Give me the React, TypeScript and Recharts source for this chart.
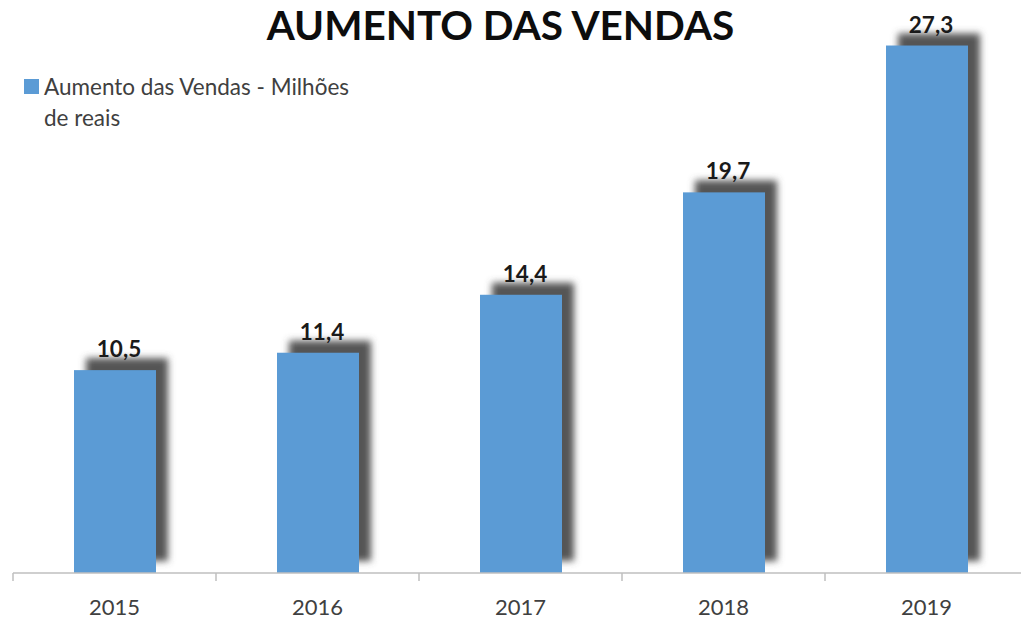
import { BarChart, Bar, XAxis, YAxis, LabelList, Legend } from 'recharts';

const years = ['2015', '2016', '2017', '2018', '2019'];
const vendas = [10.5, 11.4, 14.4, 19.7, 27.3];
const seriesName = 'Aumento das Vendas - Milhões de reais';
const title = 'AUMENTO DAS VENDAS';

const data = years.map((ano, i) => ({ ano, vendas: vendas[i] }));

const FONT = 'Lato, "Open Sans", sans-serif';

const ShadowBar = (props: any) => {
  const { x, y, width, height, index } = props;
  const id = `sombra-${index}`;
  return (
    <g>
      <defs>
        <filter id={id} x="-30%" y="-30%" width="160%" height="160%">
          <feGaussianBlur stdDeviation="3.5" />
        </filter>
      </defs>
      <rect x={x + 12} y={y - 12} width={width} height={height} fill="#555555" filter={`url(#${id})`} />
      <rect x={x} y={y} width={width} height={height} fill="#5b9bd5" />
    </g>
  );
};

const AnoTick = (props: any) => {
  const { x, y, payload } = props;
  const half = payload?.offset ?? 101.5;
  const axisY = y - 8;
  return (
    <g>
      <line x1={x - half} y1={axisY} x2={x - half} y2={axisY + 8} stroke="#bfbfbf" strokeWidth={1.5} />
      <text x={x} y={axisY + 42} textAnchor="middle" fontSize={22} fill="#404040" fontFamily={FONT}>
        {payload.value}
      </text>
    </g>
  );
};

const renderLabel = (props: any) => {
  const { x, y, width, value } = props;
  return (
    <text x={x + width / 2 + 4} y={y - 13} textAnchor="middle" fontSize={22.5} fontWeight="bold" fill="#1a1a1a" fontFamily={FONT}>
      {String(value).replace('.', ',')}
    </text>
  );
};

const renderLegend = () => (
  <div style={{ display: 'flex', alignItems: 'flex-start', fontFamily: FONT, fontSize: 22.5, color: '#404040', lineHeight: '31px' }}>
    <span style={{ display: 'inline-block', width: 15, height: 15, background: '#5b9bd5', marginTop: 8, marginRight: 5, flexShrink: 0 }} />
    <span style={{ width: 335 }}>{seriesName}</span>
  </div>
);

export default function App() {
  return (
    <div style={{ position: 'absolute', left: 0, top: 0, width: 1021, height: 619, overflow: 'hidden', background: '#fff' }}>
      <div
        style={{
          position: 'absolute',
          left: 0,
          width: 1001,
          top: 0,
          textAlign: 'center',
          fontFamily: FONT,
          fontWeight: 'bold',
          fontSize: 40.5,
          color: '#0d0d0d',
        }}
      >
        {title}
      </div>
      <BarChart width={1028} height={619} data={data} margin={{ top: 32, right: 0, bottom: 0, left: 13 }} barSize={82}>
        <XAxis
          dataKey="ano"
          height={46}
          axisLine={{ stroke: '#bfbfbf', strokeWidth: 1.5 }}
          tickLine={false}
          tickSize={8}
          tickMargin={0}
          tick={<AnoTick />}
          interval={0}
        />
        <YAxis hide domain={[0, 28]} />
        <Legend
          layout="vertical"
          align="center"
          verticalAlign="middle"
          content={renderLegend}
          wrapperStyle={{ position: 'absolute', left: 24, top: 71, width: 380 }}
        />
        <Bar dataKey="vendas" name={seriesName} shape={<ShadowBar />} isAnimationActive={false}>
          <LabelList dataKey="vendas" content={renderLabel} />
        </Bar>
      </BarChart>
    </div>
  );
}
